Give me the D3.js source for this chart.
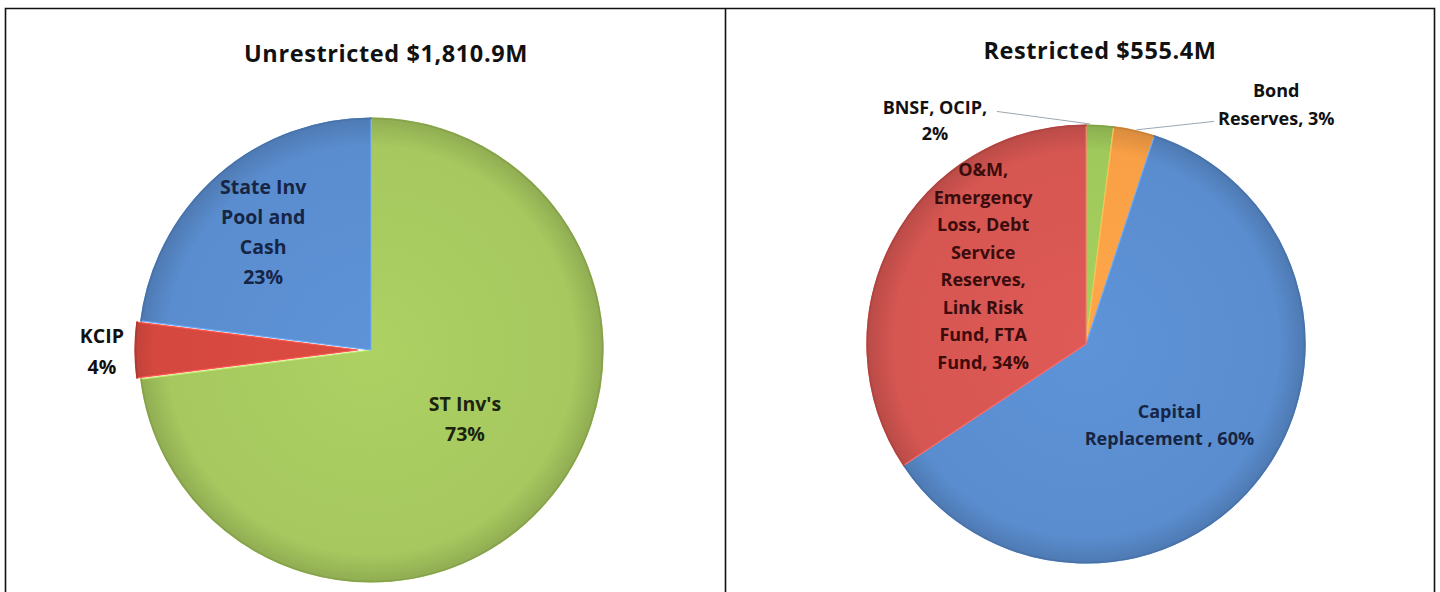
<!DOCTYPE html>
<html lang="en">
<head>
    <meta charset="UTF-8">
    <title>Unrestricted and Restricted Funds</title>
    <script src="https://d3js.org/d3.v7.min.js"></script>
    <style>
        body {
            margin: 0;
            background: #fff;
            font-family: "Open Sans", Arial, sans-serif;
        }
        .title {
            font-size: 23.5px;
            font-weight: 700;
            letter-spacing: 0.6px;
            fill: #111;
            text-anchor: middle;
        }
        .label {
            font-weight: 700;
            text-anchor: middle;
        }
        .frame {
            stroke: #111;
            stroke-width: 1.6px;
            fill: none;
        }
        .leader {
            stroke: #9aa7b2;
            stroke-width: 1px;
            fill: none;
        }
    </style>
</head>
<body>
    <svg width="1440" height="592"></svg>
    <script>
        // Unrestricted
        var leftTitle = "Unrestricted $1,810.9M";
        var leftNames = ["ST Inv's", "KCIP", "State Inv Pool and Cash"];
        var leftValues = [73, 4, 23];
        var leftLines = [["ST Inv's", "73%"], ["KCIP", "4%"], ["State Inv", "Pool and", "Cash", "23%"]];

        // Restricted
        var rightTitle = "Restricted $555.4M";
        var rightNames = ["BNSF, OCIP", "Bond Reserves", "Capital Replacement",
                          "O&M, Emergency Loss, Debt Service Reserves, Link Risk Fund, FTA Fund"];
        var rightValues = [2, 3, 60, 34];
        var rightLines = [["BNSF, OCIP,", "2%"], ["Bond", "Reserves, 3%"], ["Capital", "Replacement , 60%"],
                          ["O&M,", "Emergency", "Loss, Debt", "Service", "Reserves,", "Link Risk", "Fund, FTA", "Fund, 34%"]];

        var svg = d3.select("svg");
        var defs = svg.append("defs");

        // table frame
        svg.append("path").attr("class", "frame")
            .attr("d", "M5.5,600V8.5H1434.5V600M725.5,8.5V600");

        function pieChart(opt) {
            var g = svg.append("g").attr("transform", "translate(" + opt.cx + "," + opt.cy + ")");
            var r = opt.r;
            var pie = d3.pie().sort(null).value(function(d) { return d; });
            var arcs = pie(opt.values);
            var arc = d3.arc().innerRadius(0);

            svg.append("text").attr("class", "title")
                .attr("x", opt.titleX).attr("y", opt.titleY)
                .text(opt.title);

            arcs.forEach(function(a, i) {
                var id = opt.id + "g" + i;
                var c = d3.rgb(opt.colors[i]);
                var grad = defs.append("radialGradient").attr("id", id)
                    .attr("gradientUnits", "userSpaceOnUse")
                    .attr("cx", 0).attr("cy", 0).attr("r", r);
                grad.append("stop").attr("offset", "0%").attr("stop-color", c.brighter(0.12));
                grad.append("stop").attr("offset", "88%").attr("stop-color", c);
                grad.append("stop").attr("offset", "100%").attr("stop-color", c.darker(0.4));

                var ex = opt.explode[i] || 0;
                var mid = (a.startAngle + a.endAngle) / 2;
                var rr = ex ? r - ex * 0.7 : r;
                var s = g.append("g")
                    .attr("transform", "translate(" + (Math.sin(mid) * ex) + "," + (-Math.cos(mid) * ex) + ")");
                s.append("path")
                    .attr("d", arc.outerRadius(rr)(a))
                    .attr("fill", "url(#" + id + ")")
                    .attr("stroke", c.brighter(0.5))
                    .attr("stroke-width", 1.2)
                    .attr("stroke-linejoin", "round");
                // darker rim along the outer edge
                s.append("path")
                    .attr("d", d3.arc().innerRadius(rr - 0.6).outerRadius(rr)(a))
                    .attr("fill", "none")
                    .attr("stroke", c.darker(0.6))
                    .attr("stroke-width", 1.2);
            });

            arcs.forEach(function(a, i) {
                var L = opt.labels[i];
                var mid = (a.startAngle + a.endAngle) / 2;
                var lr = r * L.rf;
                var x = Math.sin(mid) * lr + L.dx;
                var y = -Math.cos(mid) * lr + L.dy;
                var lines = opt.lines[i];
                var lh = L.lh;
                var t = g.append("text").attr("class", "label")
                    .attr("fill", L.color)
                    .style("font-size", opt.labelSize + "px");
                lines.forEach(function(s, k) {
                    t.append("tspan").attr("x", x)
                        .attr("y", y + (k - (lines.length - 1) / 2) * lh)
                        .attr("dy", "0.35em")
                        .text(s);
                });
                if (L.leader) {
                    var er = r * 1.005;
                    g.append("path").attr("class", "leader")
                        .attr("d", "M" + (x + L.leader[0]) + "," + (y + L.leader[1]) +
                            "L" + (Math.sin(mid + L.leader[2]) * er) + "," + (-Math.cos(mid + L.leader[2]) * er));
                }
            });
        }

        pieChart({
            id: "L", cx: 371, cy: 350, r: 232,
            title: leftTitle, titleX: 386, titleY: 62,
            values: leftValues, lines: leftLines, labelSize: 19.5,
            colors: ["#a6c85f", "#d4483f", "#5a8dcf"],
            explode: [0, 13, 0],
            labels: [
                {rf: 0.5, dx: 7, dy: -8, lh: 30, color: "#1c2410"},
                {rf: 1.16, dx: 0, dy: 2, lh: 31, color: "#111"},
                {rf: 0.69, dx: -2, dy: 2, lh: 30, color: "#172544"}
            ]
        });

        pieChart({
            id: "R", cx: 1086, cy: 344, r: 219,
            title: rightTitle, titleX: 1100, titleY: 59,
            values: rightValues, lines: rightLines, labelSize: 18,
            colors: ["#9fc95b", "#f9a046", "#5a8dcf", "#d65652"],
            explode: [0, 0, 0, 0],
            labels: [
                {rf: 1.0, dx: -165, dy: -5, lh: 26, color: "#111", leader: [62, -9, -0.045]},
                {rf: 1.0, dx: 142, dy: -26, lh: 28, color: "#111", leader: [-62, 17, 0.01]},
                {rf: 0.45, dx: 5, dy: 22, lh: 27, color: "#172544"},
                {rf: 0.59, dx: 11, dy: -17, lh: 27.5, color: "#3a0c0c"}
            ]
        });
    </script>
</body>
</html>
